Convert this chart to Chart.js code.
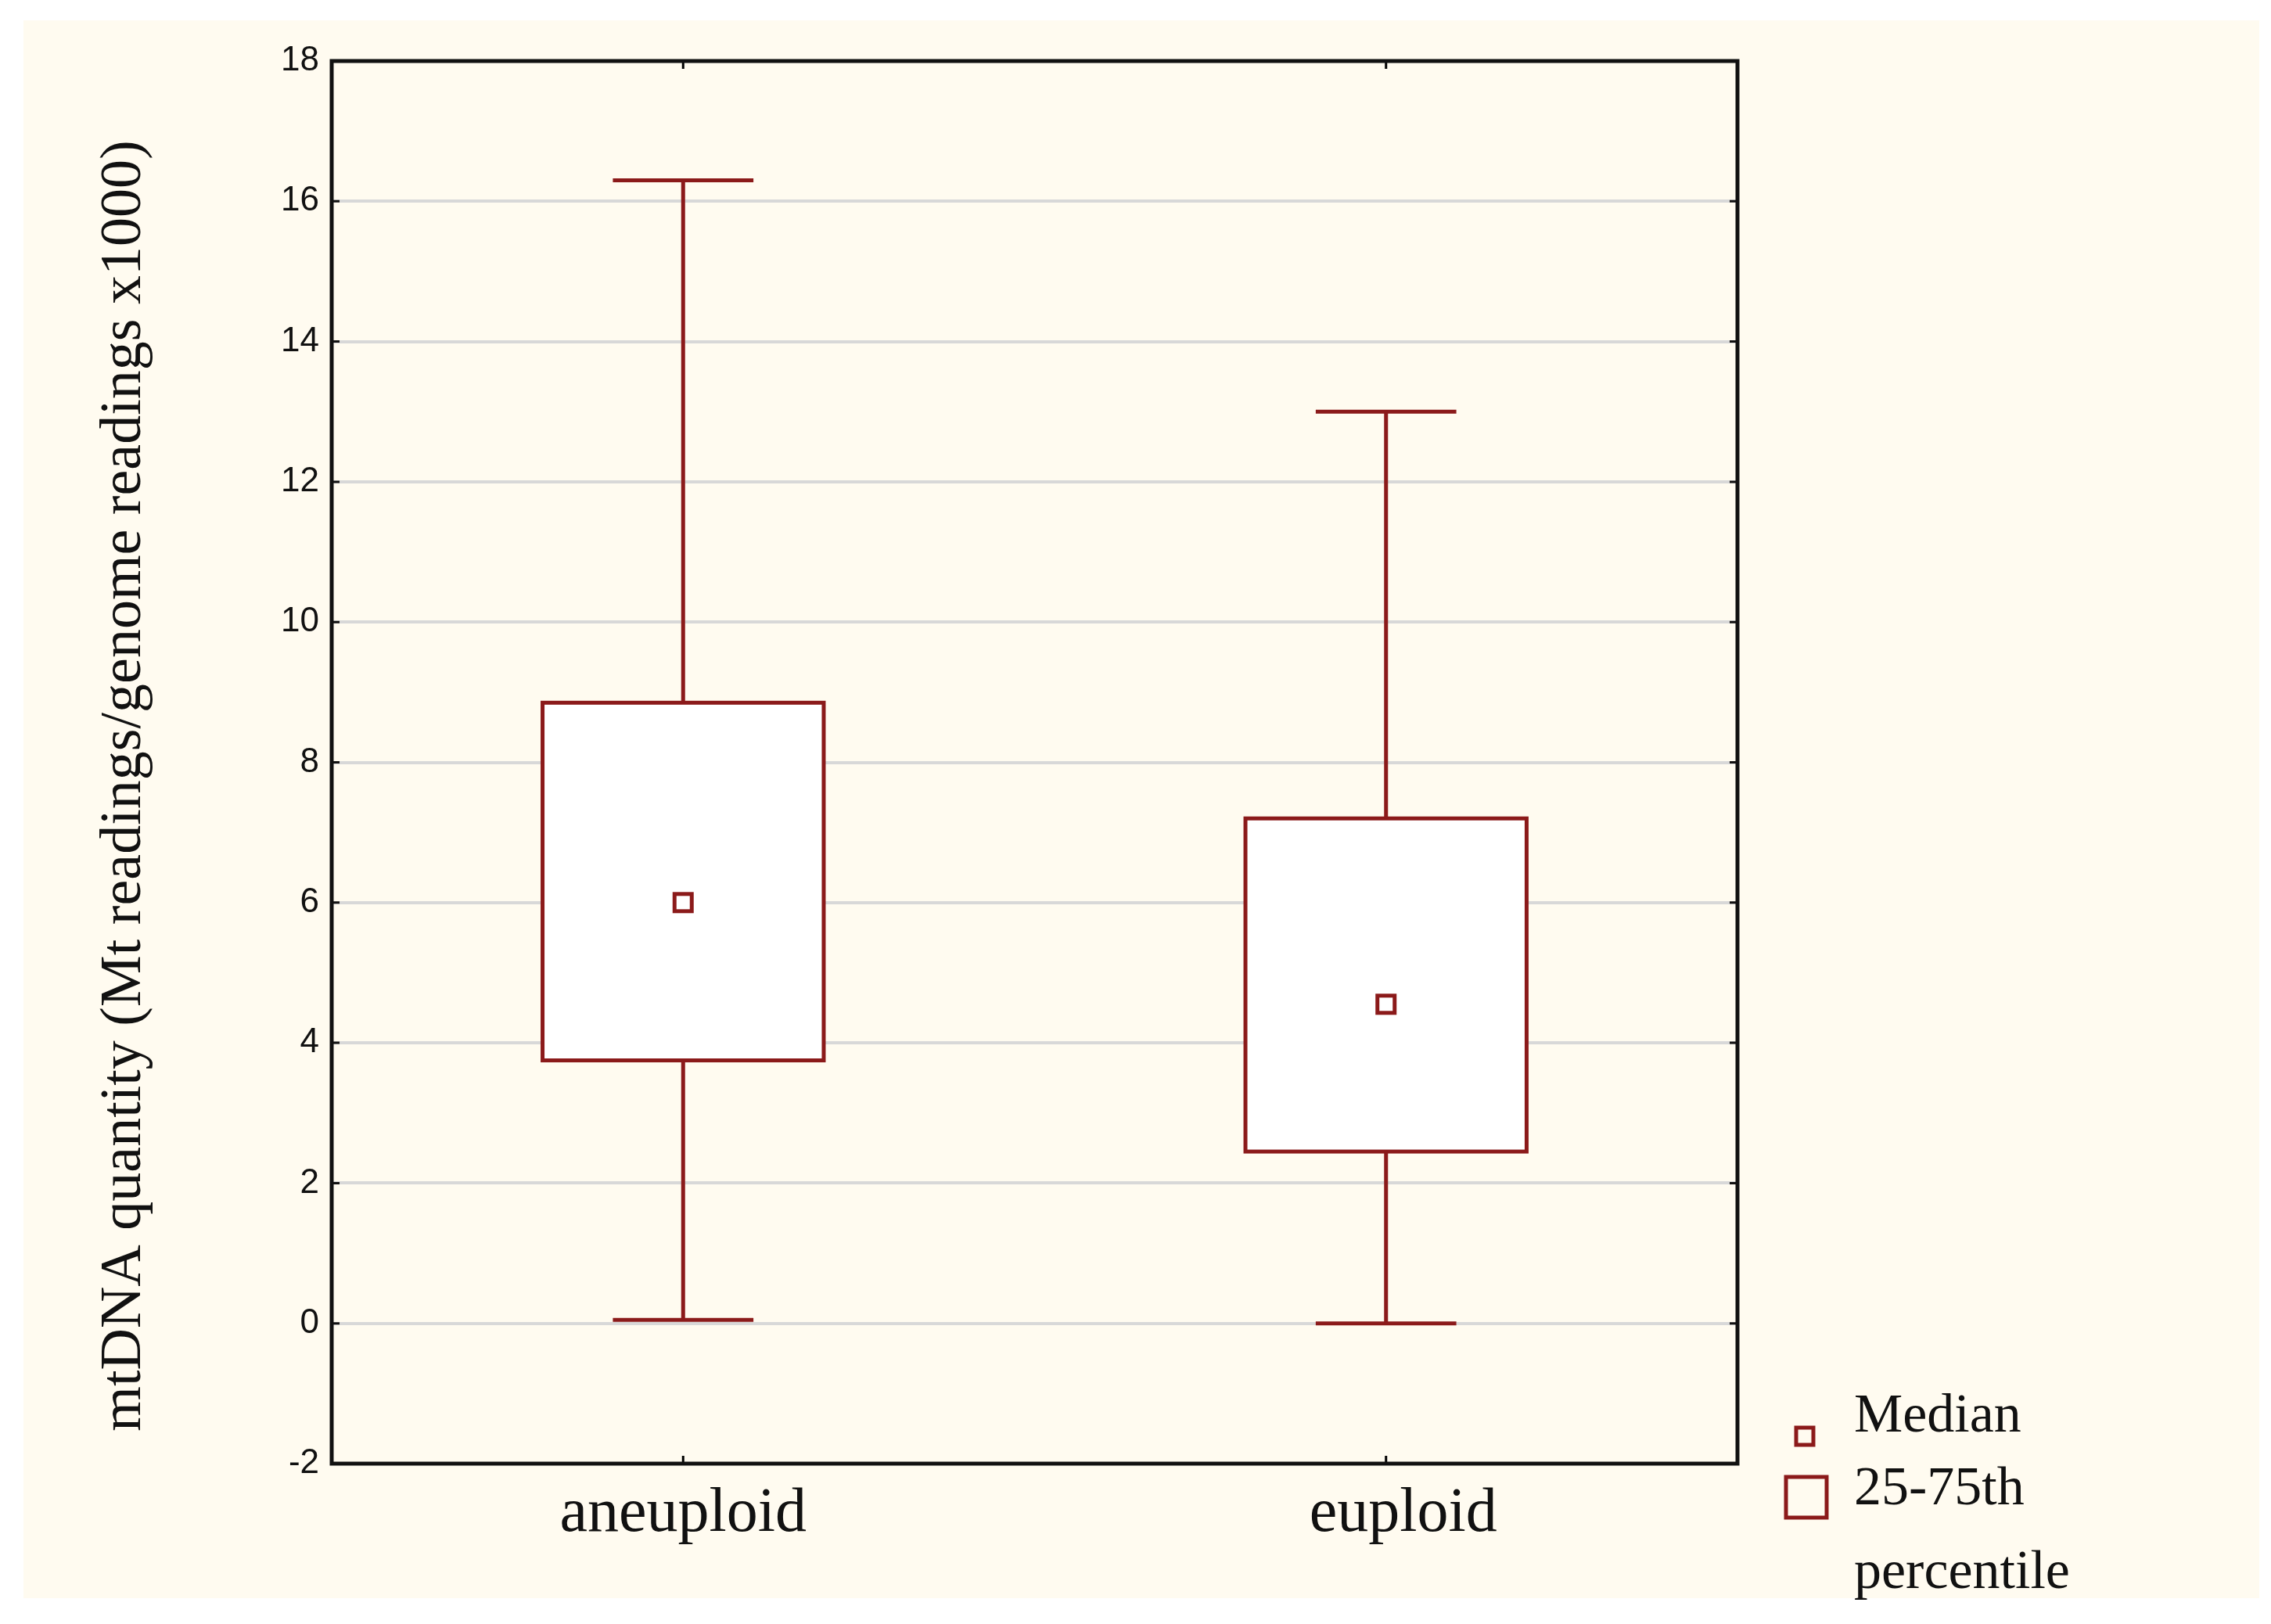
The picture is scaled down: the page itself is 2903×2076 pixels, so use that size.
<!DOCTYPE html>
<html><head><meta charset="utf-8">
<script src="https://cdn.jsdelivr.net/npm/chart.js@4"></script>
<style>html,body{margin:0;background:#fff}#c{display:block}</style>
</head><body>
<div style="width:2903px;height:2076px"><canvas id="c"></canvas></div>
<script>
const categories = ["aneuploid", "euploid"];
const positions = [0.5, 1.5];
const mins = [0.05, 0];
const q1s = [3.75, 2.45];
const medians = [6.0, 4.55];
const q3s = [8.85, 7.2];
const maxs = [16.3, 13.0];
const yTicks = [-2, 0, 2, 4, 6, 8, 10, 12, 14, 16, 18];

const RED = "#8b1a1a";

const boxPlugin = {
  id: "boxes",
  beforeDraw(chart) {
    const c = chart.ctx;
    c.save();
    c.fillStyle = "#fffbf0";
    c.fillRect(30, 26, 2858, 2017);
    c.restore();
  },
  afterDatasetsDraw(chart) {
    const c = chart.ctx, x = chart.scales.x, y = chart.scales.y;
    const area = chart.chartArea;
    c.save();
    c.strokeStyle = RED;
    c.lineWidth = 5;
    positions.forEach((p, i) => {
      const cx = x.getPixelForValue(p);
      const hb = (x.getPixelForValue(0.2) - x.getPixelForValue(0));
      const hc = (x.getPixelForValue(0.1) - x.getPixelForValue(0));
      const yq1 = y.getPixelForValue(q1s[i]), yq3 = y.getPixelForValue(q3s[i]);
      const ymin = y.getPixelForValue(mins[i]), ymax = y.getPixelForValue(maxs[i]);
      c.fillStyle = "#ffffff";
      c.fillRect(cx - hb, yq3, 2 * hb, yq1 - yq3);
      c.strokeRect(cx - hb, yq3, 2 * hb, yq1 - yq3);
      c.beginPath();
      c.moveTo(cx, yq3); c.lineTo(cx, ymax);
      c.moveTo(cx - hc, ymax); c.lineTo(cx + hc, ymax);
      c.moveTo(cx, yq1); c.lineTo(cx, ymin);
      c.moveTo(cx - hc, ymin); c.lineTo(cx + hc, ymin);
      c.stroke();
      // median marker
      const my = y.getPixelForValue(medians[i]);
      c.fillStyle = "#fff";
      c.fillRect(cx - 11, my - 11, 22, 22);
      c.strokeRect(cx - 11, my - 11, 22, 22);
      // category label
      c.fillStyle = "#111";
      c.font = "80px 'Liberation Serif', serif";
      c.textAlign = "center";
      c.textBaseline = "top";
      c.fillText(categories[i], cx + (i ? 22 : 0), area.bottom + 25);
      // tick marks on x axis
      c.strokeStyle = "#000"; c.lineWidth = 3;
      c.beginPath();
      c.moveTo(cx, area.bottom); c.lineTo(cx, area.bottom - 10);
      c.moveTo(cx, area.top); c.lineTo(cx, area.top + 10);
      c.stroke();
      c.strokeStyle = RED; c.lineWidth = 5;
    });
    // frame
    c.strokeStyle = "#111"; c.lineWidth = 5;
    c.strokeRect(area.left, area.top, area.right - area.left, area.bottom - area.top);
    // inner ticks
    c.lineWidth = 3;
    yTicks.forEach(t => {
      const py = y.getPixelForValue(t);
      c.beginPath();
      c.moveTo(area.right, py); c.lineTo(area.right - 10, py);
      c.moveTo(area.left, py); c.lineTo(area.left + 10, py);
      c.stroke();
    });
    // y title
    c.save();
    c.translate(160, (area.top + area.bottom) / 2 + 30);
    c.rotate(-Math.PI / 2);
    c.fillStyle = "#111";
    c.font = "74px 'Liberation Serif', serif";
    c.textAlign = "center";
    c.textBaseline = "middle";
    c.fillText("mtDNA quantity (Mt readings/genome readings x1000)", 0, 0);
    c.restore();
    // legend
    c.strokeStyle = RED; c.lineWidth = 5;
    c.strokeRect(2296, 1825, 22, 22);
    c.strokeRect(2283, 1888, 52, 52);
    c.fillStyle = "#111";
    c.font = "70px 'Liberation Serif', serif";
    c.textAlign = "left";
    c.textBaseline = "middle";
    c.fillText("Median", 2370, 1812);
    c.fillText("25-75th", 2370, 1905);
    c.fillText("percentile", 2370, 2012);
    c.restore();
  }
};

new Chart(document.getElementById("c"), {
  type: "scatter",
  data: { datasets: [{ data: [], showLine: false }] },
  options: {
    responsive: true,
    maintainAspectRatio: false,
    animation: false,
    layout: { padding: { left: 0, right: 682, top: 78, bottom: 0 } },
    plugins: { legend: { display: false }, tooltip: { enabled: false } },
    scales: {
      x: {
        type: "linear", min: 0, max: 2,
        grid: { display: false },
        border: { display: false },
        ticks: { display: false },
        afterFit(s) { s.height = 205; }
      },
      y: {
        min: -2, max: 18,
        afterBuildTicks(s) { s.ticks = yTicks.map(v => ({ value: v })); },
        grid: { color: "#d8d8d8", lineWidth: 4, drawTicks: false },
        border: { display: false },
        ticks: { color: "#111", font: { size: 44, family: "'Liberation Sans', Arial" }, padding: 16 },
        afterFit(s) { s.width = 424; }
      }
    }
  },
  plugins: [boxPlugin]
});
</script>
</body></html>
